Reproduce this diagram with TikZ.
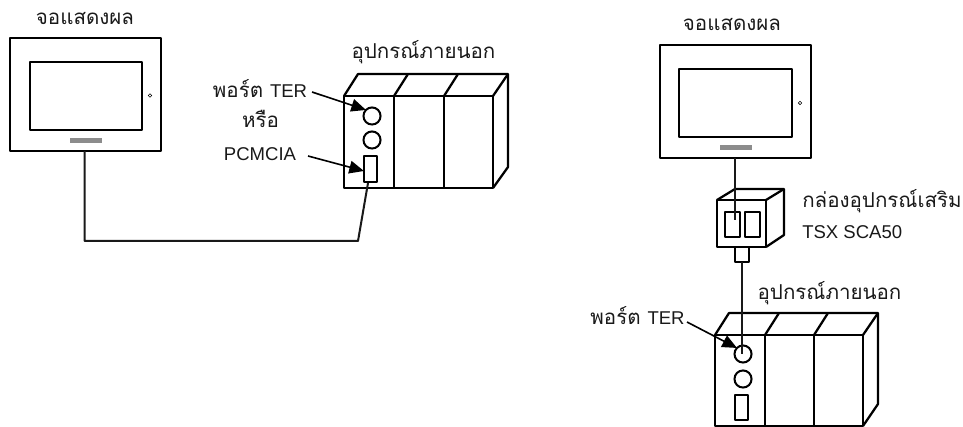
\documentclass[tikz,border=0pt]{standalone}
\usepackage{fontspec}
\setmainfont[Script=Thai]{Loma}
\newfontfamily\latinf{Liberation Sans}
\usetikzlibrary{arrows.meta,calc}
\newcommand{\pxbox}[6]{%
  \pgfmathsetmacro{\bxc}{(#2+#4)/2}\pgfmathsetmacro{\byc}{(#3+#5)/2}%
  \pgfmathsetmacro{\bxw}{(#4-#2)*0.75}\pgfmathsetmacro{\byh}{(#5-#3)*0.75}%
  \node[#6,minimum width=\bxw pt,minimum height=\byh pt] (#1) at (\bxc,\byc) {};}
\newcommand{\lat}[1]{{\latinf\fontsize{13.9}{15}\selectfont #1}}
\tikzset{
  x=0.75pt,y=-0.75pt,
  boxbase/.style={draw=black,rectangle,inner sep=0pt,outer sep=0pt,line join=round},
  screen/.style={boxbase,line width=2.1pt},
  module/.style={boxbase,line width=1.7pt},
  port/.style={boxbase,line width=1.6pt},
  bar/.style={rectangle,fill=black!45,inner sep=0pt,outer sep=0pt},
  ring/.style={circle,draw=black,line width=1.5pt,inner sep=0pt,outer sep=0pt,minimum size=12.8pt},
  led/.style={circle,draw=black,line width=0.5pt,inner sep=0pt,outer sep=0pt,minimum size=2.6pt},
  wire/.style={line width=1.5pt,draw=black!90,line join=round},
  edge3d/.style={line width=1.7pt,line join=round},
  pointer/.style={line width=1.2pt,-{Triangle[length=11pt,width=9.5pt]}},
  lab/.style={font=\fontsize{15.4}{17}\selectfont,inner sep=0pt,text=black!90},
}
\begin{document}
\begin{tikzpicture}
\useasboundingbox (0,0) rectangle (963,427);
% left monitor
\pxbox{monA}{10}{38}{161}{151}{screen}
\pxbox{scrA}{30}{62}{142}{130}{screen}
\pxbox{barA}{70}{138}{102}{143}{bar}
\node[led] (ledA) at (150,95.5) {};
\node[lab] (titleA) at (85,18) {จอแสดงผล};
% left PLC
\pxbox{modA1}{344}{96}{394}{188}{module}
\pxbox{modA2}{394}{96}{444}{188}{module}
\pxbox{modA3}{444}{96}{493}{188}{module}
\draw[edge3d] (modA1.north west) -- (358,74) -- (508,74) -- (508,167) -- (modA3.south east);
\draw[edge3d] (modA3.north east) -- (508,74);
\draw[edge3d] (modA1.north east) -- (408,74);
\draw[edge3d] (modA2.north east) -- (458,74);
\node[ring] (ringA1) at (372,116) {};
\node[ring] (ringA2) at (372,140) {};
\pxbox{pcm}{364}{156}{377}{182}{port}
\node[lab] (plcA) at (423.5,52) {อุปกรณ์ภายนอก};
\node[lab] (terA) at (260,89) {พอร์ต \lat{TER}};
\node[lab] (orA) at (260.5,119) {หรือ};
\node[lab] (pcA) at (260,154) {\lat{PCMCIA}};
\coordinate (terAend) at (312,92);
\coordinate (pcAend) at (308,156);
\draw[pointer] (terAend) -- (ringA1.north west);
\draw[pointer] (pcAend) -- ($(pcm.west)+(0,2)$);
% left cable
\coordinate (bendA) at (358,241);
\coordinate (topA) at (368,183);
\draw[wire] (84.5,151) coordinate (startA) -- (startA |- bendA) -- (bendA) -- (topA);
% right monitor
\pxbox{monB}{660}{45}{811}{158}{screen}
\pxbox{scrB}{679}{69}{792}{137}{screen}
\pxbox{barB}{720}{145}{752}{150}{bar}
\node[led] (ledB) at (800,103) {};
\node[lab] (titleB) at (732,24) {จอแสดงผล};
% option box
\pxbox{optBox}{717}{200}{766}{247}{module}
\draw[edge3d] (optBox.north west) -- (735,189) -- (784,189) -- (784,235) -- (optBox.south east);
\draw[edge3d] (optBox.north east) -- (784,189);
\pxbox{optP1}{725}{212}{740}{237}{port}
\pxbox{optP2}{745}{212}{760}{237}{port}
\pxbox{optC}{735}{247}{749}{262}{port}
\node[lab,anchor=west] (optLab) at (802,201) {กล่องอุปกรณ์เสริม};
\node[lab,anchor=west] (optLab2) at (802,232) {\lat{TSX SCA50}};
% right PLC
\pxbox{modB1}{715}{335}{765}{426}{module}
\pxbox{modB2}{765}{335}{814}{426}{module}
\pxbox{modB3}{814}{335}{863}{426}{module}
\draw[edge3d] (modB1.north west) -- (729,313) -- (878,313) -- (878,404) -- (modB3.south east);
\draw[edge3d] (modB3.north east) -- (878,313);
\draw[edge3d] (modB1.north east) -- (779,313);
\draw[edge3d] (modB2.north east) -- (828,313);
\node[ring] (ringB1) at (743,354) {};
\node[ring] (ringB2) at (743,379) {};
\pxbox{pcmB}{735}{395}{748}{420}{port}
\node[lab] (plcB) at (829.5,293) {อุปกรณ์ภายนอก};
\node[lab] (terB) at (637.5,316) {พอร์ต \lat{TER}};
\coordinate (terBend) at (687,322);
\draw[pointer] (terBend) -- (ringB1.north west);
% right cables
\draw[wire] (735,158) coordinate (startB) -- (735,220);
\draw[wire] (optC.south) -- (optC.south |- ringB1.center);
\end{tikzpicture}
\end{document}
